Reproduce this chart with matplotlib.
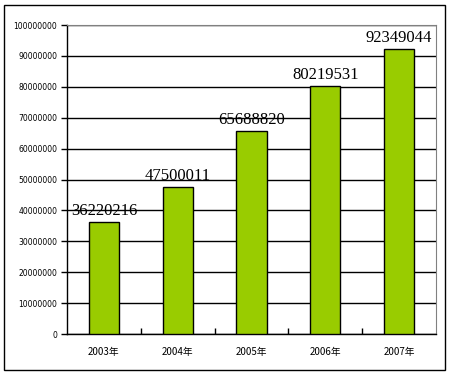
import numpy as np
import matplotlib.pyplot as plt
from matplotlib.patches import Rectangle

years = ['2003年', '2004年', '2005年', '2006年', '2007年']
values = [36220216, 47500011, 65688820, 80219531, 92349044]
yticks = np.arange(0, 100000001, 10000000)

plt.rcParams['font.family'] = ['Noto Sans CJK SC', 'DejaVu Sans']

fig = plt.figure(figsize=(4.5, 3.77), dpi=100)
fig.patches.append(Rectangle((4/450, 1 - 370/377), 441/450, 365/377,
                             transform=fig.transFigure, fill=False,
                             edgecolor='black', linewidth=1.0))

ax = fig.add_axes([67/450, 43/377, 369/450, 309/377])
x = np.arange(len(years))
ax.bar(x, values, width=0.41, color='#99CC00', edgecolor='black', linewidth=1.0, zorder=3)

ax.set_ylim(0, 100000000)
ax.set_xlim(-0.5, len(years) - 0.5)
ax.set_yticks(yticks)
ax.set_yticklabels([str(v) for v in yticks], fontsize=5.5, family=['DejaVu Sans'])
ax.yaxis.grid(True, color='black', linewidth=1.0)
ax.set_axisbelow(True)

ax.set_xticks(x)
ax.set_xticklabels(years, fontsize=7)
ax.tick_params(axis='x', length=0, pad=9)
ax.set_xticks(np.arange(0.5, len(years) - 0.5, 1.0), minor=True)
ax.tick_params(axis='x', which='minor', direction='in', length=4, width=1)
ax.tick_params(axis='y', length=4, width=1, direction='out', pad=3)

for s in ['top', 'right']:
    ax.spines[s].set_color('gray')
for s in ['left', 'bottom']:
    ax.spines[s].set_linewidth(1.0)

for xi, v in zip(x, values):
    ax.text(xi, v + 1000000, str(v), ha='center', va='bottom',
            fontsize=12, family=['Liberation Serif'])

fig.savefig('out.png', dpi=100)
